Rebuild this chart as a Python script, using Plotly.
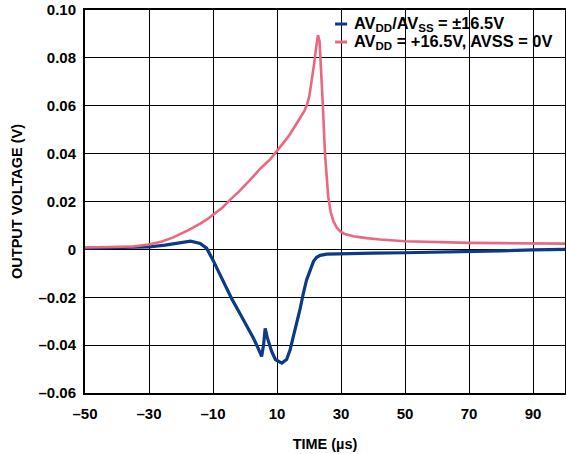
import plotly.graph_objects as go

# time in microseconds, output voltage in volts
blue_t = [-50, -40, -30, -25, -20, -17, -14, -12, -10, -7, -4, -1.5, 1, 2.6, 4, 5.2, 5.8, 6.3,
          7, 8.3, 9.5, 11.5, 13, 14.1, 15, 16.2, 17.2, 18.2, 19.2, 20.3, 21.4, 22.4, 23.5, 25.5,
          30, 40, 50, 60, 70, 80, 90, 100]
blue_v = [0.0005, 0.0007, 0.001, 0.0018, 0.003, 0.0034, 0.0025, 0.0005, -0.0045, -0.013, -0.021,
          -0.027, -0.033, -0.037, -0.041, -0.0447, -0.040, -0.033, -0.037, -0.0425, -0.046,
          -0.0475, -0.046, -0.042, -0.037, -0.031, -0.025, -0.0186, -0.013, -0.009, -0.005,
          -0.0033, -0.0025, -0.002, -0.0018, -0.0016, -0.0014, -0.0012, -0.001, -0.0006,
          -0.0002, 0.0]

pink_t = [-50, -40, -35, -30, -26, -22.4, -18, -14, -12, -10, -7, -4.7, -2, 1.6, 5, 8, 10, 12,
          14, 16, 17.5, 18.6, 19.4, 20.1, 20.8, 21.6, 22.2, 22.8, 23.3, 23.8, 24.3, 25, 26,
          26.8, 27.6, 28.6, 29.7, 31, 33.8, 38, 42.2, 50, 60, 70, 80, 90, 100]
pink_v = [0.0008, 0.0009, 0.0012, 0.002, 0.0033, 0.005, 0.0078, 0.0108, 0.0124, 0.0145, 0.0175,
          0.0207, 0.024, 0.029, 0.034, 0.0378, 0.041, 0.0445, 0.048, 0.052, 0.0555, 0.058,
          0.0605, 0.064, 0.0695, 0.0775, 0.084, 0.0895, 0.087, 0.076, 0.061, 0.040, 0.022,
          0.0155, 0.0118, 0.0092, 0.0076, 0.0065, 0.0055, 0.0047, 0.0041, 0.0034, 0.003,
          0.0027, 0.0026, 0.0025, 0.0024]

x_ticks = [-50, -30, -10, 10, 30, 50, 70, 90]
x_labels = ["–50", "–30", "–10", "10", "30", "50", "70", "90"]
y_ticks = [-0.06, -0.04, -0.02, 0, 0.02, 0.04, 0.06, 0.08, 0.10]
y_labels = ["–0.06", "–0.04", "–0.02", "0", "0.02", "0.04", "0.06", "0.08", "0.10"]

series_names = ["AV<sub>DD</sub>/AV<sub>SS</sub> = ±16.5V",
                "AV<sub>DD</sub> = +16.5V, AVSS = 0V"]
series_colors = ["#0b3a86", "#e9677f"]

fig = go.Figure()
fig.add_trace(go.Scatter(x=blue_t, y=blue_v, mode="lines", name=series_names[0],
                         line=dict(color=series_colors[0], width=3.2)))
fig.add_trace(go.Scatter(x=pink_t, y=pink_v, mode="lines", name=series_names[1],
                         line=dict(color=series_colors[1], width=2.6)))

# legend drawn by hand: white box over the grid, short line keys, bold labels
fig.add_shape(type="rect", xref="paper", yref="paper", x0=0.5, x1=1, y0=0.893, y1=1,
              fillcolor="white", line_width=0, layer="between")
for i, (name, color) in enumerate(zip(series_names, series_colors)):
    ky = 0.9634 - i * 0.047
    fig.add_shape(type="line", xref="paper", yref="paper", x0=0.521, x1=0.546, y0=ky, y1=ky,
                  line=dict(color=color, width=3))
    fig.add_annotation(xref="paper", yref="paper", x=0.556, y=ky, xanchor="left",
                       yanchor="middle", text=name, showarrow=False, font=dict(size=16.4))

fig.update_layout(
    width=566, height=454,
    margin=dict(l=85, r=1, t=10, b=61),
    paper_bgcolor="white", plot_bgcolor="white",
    font=dict(family="Liberation Sans, Arial", size=15, color="black", weight="bold"),
    showlegend=False,
    xaxis=dict(range=[-50, 100], tickvals=x_ticks, ticktext=x_labels,
               showgrid=True, gridcolor="black", gridwidth=1, zeroline=False,
               showline=True, mirror=True, linecolor="black", linewidth=2,
               ticks="", ticklabelstandoff=6, automargin=False,
               title=dict(text="TIME (µs)", standoff=18, font=dict(size=14.5))),
    yaxis=dict(range=[-0.06, 0.10], tickvals=y_ticks, ticktext=y_labels,
               showgrid=True, gridcolor="black", gridwidth=1, zeroline=False,
               showline=True, mirror=True, linecolor="black", linewidth=2,
               ticks="", ticklabelstandoff=4, automargin=False,
               title=dict(text="OUTPUT VOLTAGE (V)", standoff=12, font=dict(size=14.5))),
)

# drop the browser's default page margin so the figure sits at the window's corner
fig.write_html("out.html", config={"displayModeBar": False},
               post_script="document.body.style.margin = '0';")
